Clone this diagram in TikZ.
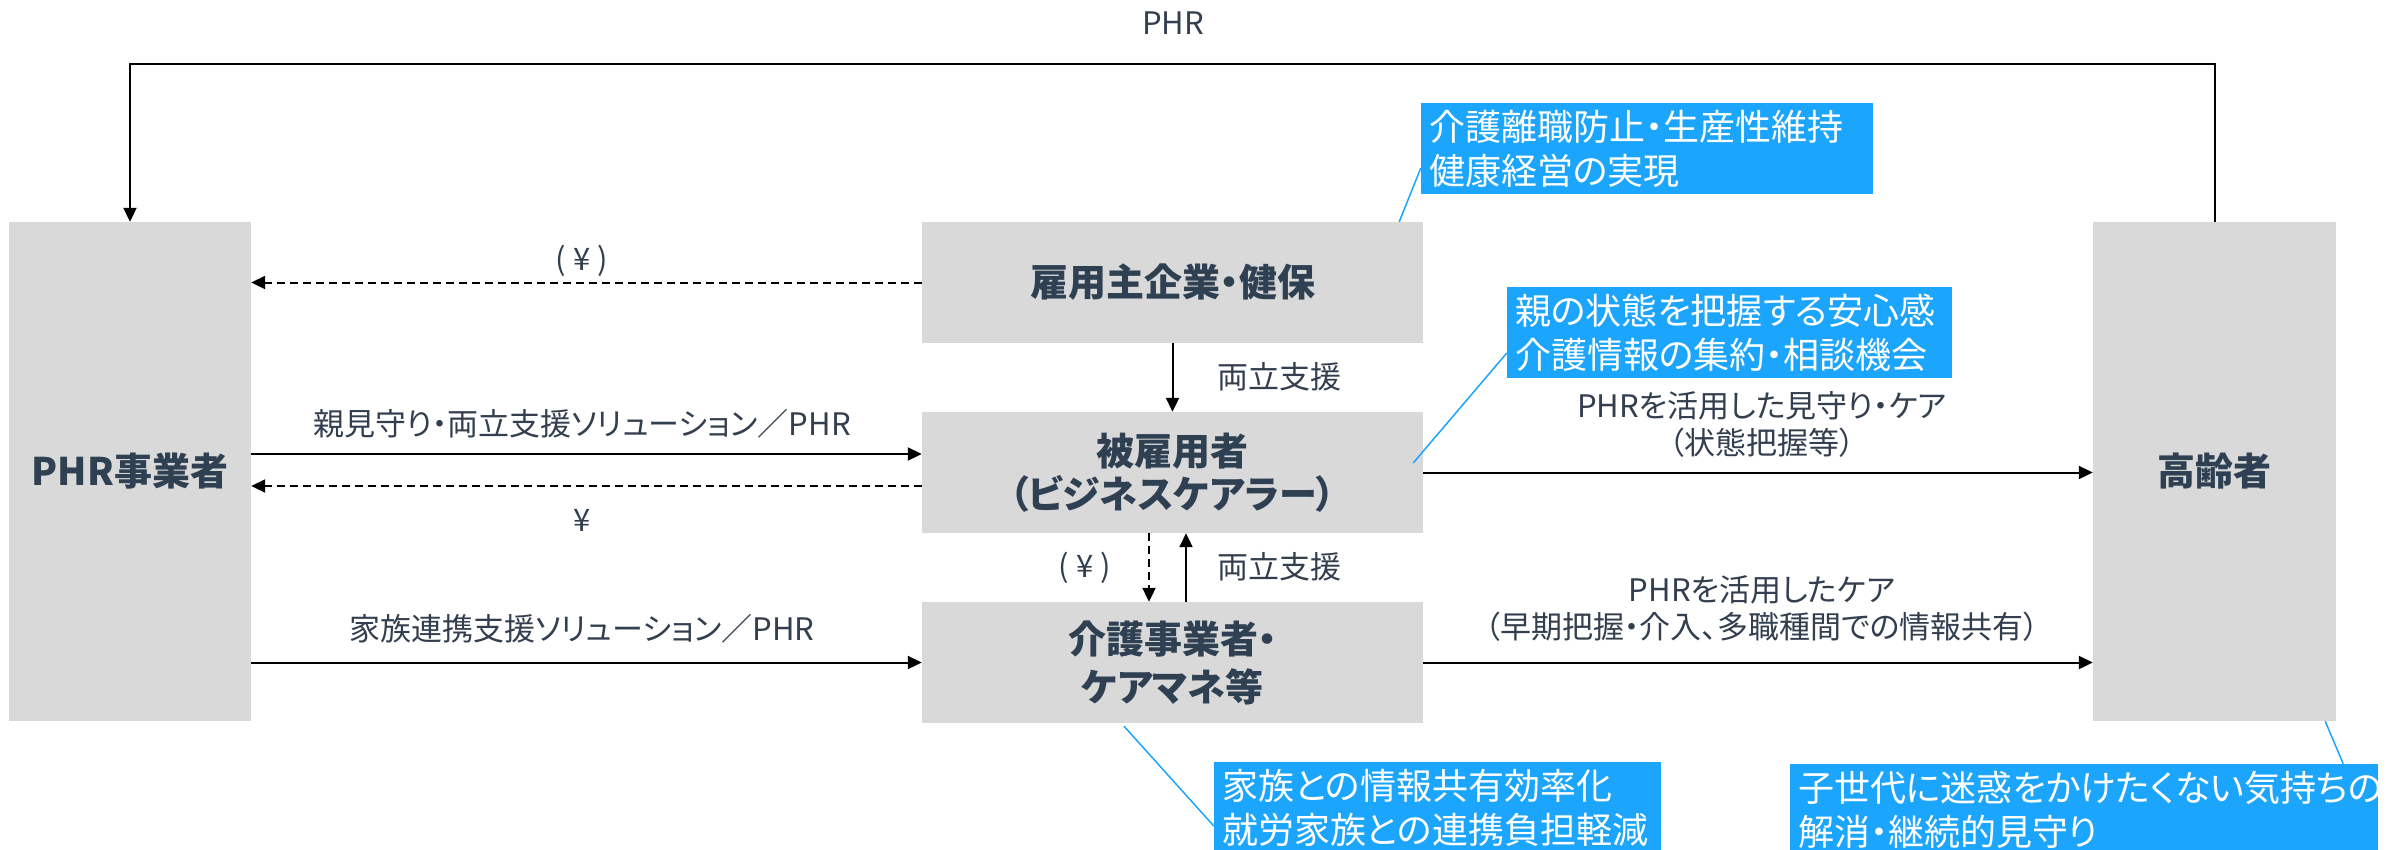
\documentclass[tikz,border=0pt]{standalone}
\usepackage{fontspec}
\setmainfont{Noto Sans CJK JP}[RawFeature=+palt]
\usetikzlibrary{arrows.meta,calc}
\definecolor{boxgray}{RGB}{217,217,217}
\definecolor{calloutblue}{RGB}{28,165,252}
\definecolor{labelc}{RGB}{51,63,79}
\definecolor{boldc}{RGB}{46,64,82}
\begin{document}
\begin{tikzpicture}[x=1pt,y=-1pt,
  box/.style={fill=boxgray, inner sep=0pt, text=boldc, font=\fontsize{38}{43}\selectfont\bfseries, align=center},
  lbl/.style={text=labelc, font=\fontsize{31}{38}\selectfont, inner sep=0pt, align=center},
  callout/.style={fill=calloutblue, text=white, font=\fontsize{36}{44}\selectfont, inner xsep=8pt, inner ysep=0pt, align=left, minimum height=91pt},
  arr/.style={line width=2pt, -{Triangle[length=14pt,width=13pt]}},
  darr/.style={arr, dash pattern=on 8pt off 5pt},
  leader/.style={draw=calloutblue, line width=1.5pt}]
\useasboundingbox (0,0) rectangle (2392,849);
\clip (0,0) rectangle (2392,849);

% boxes
\node[box, minimum width=242pt, minimum height=499pt] (phr) at (130,471.5) {PHR事業者};
\node[box, minimum width=501pt, minimum height=121pt] (empr) at (1172.5,282.5) {雇用主企業・健保};
\node[box, minimum width=501pt, minimum height=121pt] (emp) at (1172.5,472.5) {被雇用者\\（ビジネスケアラー）};
\node[box, minimum width=501pt, minimum height=121pt] (care) at (1172.5,662.5) {介護事業者・\\[5pt]ケアマネ等};
\node[box, minimum width=243pt, minimum height=499pt] (old) at (2214.5,471.5) {高齢者};

% callouts
\node[callout, text width=436pt] (c1) at (1647,148.5) {介護離職防止・生産性維持\\健康経営の実現};
\node[callout, text width=429pt] (c2) at (1729.5,332.5) {親の状態を把握する安心感\\介護情報の集約・相談機会};
\node[callout, text width=431pt] (c3) at (1437.5,807.5) {家族との情報共有効率化\\就労家族との連携負担軽減};
\node[callout, text width=572pt] (c4) at (2084,809.5) {子世代に迷惑をかけたくない気持ちの\\解消・継続的見守り};

% top PHR loop
\coordinate (top) at (0,64);
\draw[arr] (old.north) -- (old.north |- top) -- (phr.north |- top) -- (phr.north);
\node[lbl] (lphr) at (1173,23) {PHR};

% left arrows
\draw[darr] (empr.west) -- (phr.east |- empr.west);
\node[lbl] (lyen1) at (582,261) {( ¥ )};
\draw[arr] ([yshift=18.5pt]emp.west -| phr.east) -- ([yshift=18.5pt]emp.west);
\node[lbl] (lmimamori) at (582,424) {親見守り・両立支援ソリューション／PHR};
\draw[darr] ([yshift=-13.5pt]emp.west) -- ([yshift=-13.5pt]emp.west -| phr.east);
\node[lbl] (lyen2) at (582,520) {¥};
\draw[arr] (care.west -| phr.east) -- (care.west);
\node[lbl] (lkazoku) at (582,629) {家族連携支援ソリューション／PHR};

% vertical arrows
\draw[arr] (empr.south) -- (emp.north);
\node[lbl] (lryo1) at (1279,377) {両立支援};
\draw[darr] ([xshift=-23.5pt]emp.south) -- ([xshift=-23.5pt]care.north);
\node[lbl] (lyen3) at (1085,568) {( ¥ )};
\draw[arr] ([xshift=13.5pt]care.north) -- ([xshift=13.5pt]emp.south);
\node[lbl] (lryo2) at (1279,567) {両立支援};

% right arrows
\draw[arr] (emp.east) -- (emp.east -| old.west);
\node[lbl] (lmi1) at (1762,406) {PHRを活用した見守り・ケア};
\node[lbl] (lmi2) at (1762,443) {（状態把握等）};
\draw[arr] (care.east) -- (care.east -| old.west);
\node[lbl] (lca1) at (1762,590) {PHRを活用したケア};
\node[lbl] (lca2) at (1762,627) {（早期把握・介入、多職種間での情報共有）};

% leaders
\draw[leader] ([xshift=-24pt]empr.north east) -- ([yshift=-19.5pt]c1.west);
\draw[leader] ([xshift=-10pt,yshift=9.5pt]emp.east) -- ([yshift=-20.5pt]c2.west);
\draw[leader] ([xshift=-48.5pt,yshift=-3pt]care.south) -- ([yshift=-18.5pt]c3.west);
\draw[leader] ([xshift=-11pt]old.south east) -- ([xshift=-35pt]c4.north east);
\end{tikzpicture}
\end{document}
